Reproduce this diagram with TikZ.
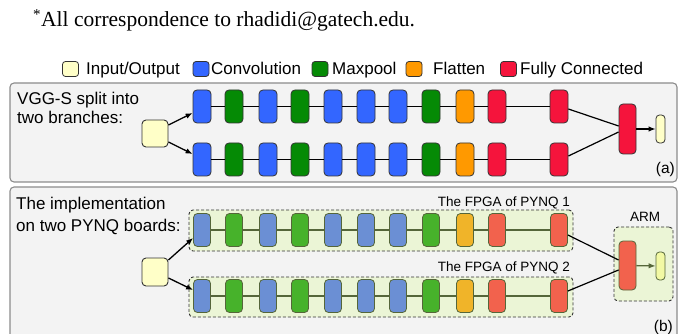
\documentclass[tikz,border=0pt]{standalone}
\usepackage{fontspec}
\setmainfont{Liberation Sans}
\newfontfamily\serifface{Liberation Serif}
\usetikzlibrary{arrows.meta,calc}
\definecolor{blueA}{HTML}{3366FF}
\definecolor{greenA}{HTML}{058A05}
\definecolor{orangeA}{HTML}{FF9900}
\definecolor{redA}{HTML}{F5143C}
\definecolor{yellowA}{HTML}{FFFFC8}
\definecolor{blueB}{HTML}{6B8FD4}
\definecolor{greenB}{HTML}{47B22B}
\definecolor{orangeB}{HTML}{F0B429}
\definecolor{redB}{HTML}{F2624D}
\definecolor{yellowB}{HTML}{F2F9A4}
\definecolor{oliveB}{HTML}{55663A}
\definecolor{boxB}{HTML}{EBF5D6}
\definecolor{panelfill}{HTML}{F3F3F3}
\definecolor{panelline}{HTML}{8C8C8C}
\definecolor{edgeA}{HTML}{333333}
\begin{document}
\begin{tikzpicture}[x=1pt,y=-1pt,
  txt/.style={inner sep=0pt,font=\fontsize{17}{19}\selectfont},
  smalltxt/.style={inner sep=0pt,font=\fontsize{13.5}{16}\selectfont},
  panel/.style={draw=panelline,fill=panelfill,line width=1.1pt,rounded corners=4pt},
  legbox/.style={draw=edgeA,line width=0.8pt,rounded corners=3pt,minimum width=16pt,minimum height=15pt,inner sep=0pt},
  layA/.style={draw=edgeA,line width=0.8pt,rounded corners=4pt,minimum width=18pt,minimum height=33pt,inner sep=0pt},
  layB/.style={draw=oliveB,line width=0.8pt,rounded corners=4pt,minimum width=17pt,minimum height=33pt,inner sep=0pt},
  chainA/.style={draw=black,line width=1.2pt},
  chainB/.style={draw=oliveB,line width=1.2pt},
  arr/.style={draw=black,line width=1.3pt,-{Latex[length=7pt,width=5.5pt]}},
  fpga/.style={draw=edgeA,fill=boxB,dash pattern=on 3pt off 2pt,line width=0.9pt,rounded corners=4pt,inner sep=0pt}
]
\clip (0,0) rectangle (678,334);
\fill[white] (0,0) rectangle (678,334);

% header
\node[anchor=base west,inner sep=0pt,font=\serifface\fontsize{21.5}{24}\selectfont] (hdr) at (33,27) {\textsuperscript{*}All correspondence to rhadidi@gatech.edu.};

% legend
\node[legbox,fill=yellowA] (l1) at (70.5,69) {};
\node[txt,anchor=base west] (lt1) at (86,75) {Input/Output};
\node[legbox,fill=blueA] (l2) at (201,69) {};
\node[txt,anchor=base west] (lt2) at (211,75) {Convolution};
\node[legbox,fill=greenA] (l3) at (320,69) {};
\node[txt,anchor=base west] (lt3) at (332,75) {Maxpool};
\node[legbox,fill=orangeA] (l4) at (414,69) {};
\node[txt,anchor=base west] (lt4) at (433,75) {Flatten};
\node[legbox,fill=redA] (l5) at (508.5,69) {};
\node[txt,anchor=base west] (lt5) at (520,75) {Fully Connected};

% panels
\path[panel] (10,83) rectangle (677,182);
\path[panel] (10,187) rectangle (677,345);

% ---------- panel (a)
\node[txt,anchor=base west] (ta1) at (17,104.5) {VGG-S split into};
\node[txt,anchor=base west] (ta2) at (17,124) {two branches:};
\node[txt,anchor=base east,font=\fontsize{15.5}{18}\selectfont] (lbla) at (675,174) {(a)};

\node[draw=edgeA,fill=yellowA,line width=0.9pt,rounded corners=4pt,minimum width=26pt,minimum height=27pt,inner sep=0pt] (ina) at (155,133.5) {};
\foreach \i/\x/\c in {1/202/blueA,2/234/greenA,3/268/blueA,4/300/greenA,5/333/blueA,6/366/blueA,7/398/blueA,8/431/greenA,9/465/orangeA,10/497/redA,11/559/redA}{
  \node[layA,fill=\c] (t\i) at (\x,106.5) {};
  \node[layA,fill=\c] (u\i) at (\x,159.5) {};
}
\foreach \i/\j in {1/2,2/3,3/4,4/5,5/6,6/7,7/8,8/9,9/10,10/11}{
  \draw[chainA] (t\i) -- (t\j);
  \draw[chainA] (u\i) -- (u\j);
}
\node[layA,fill=redA,minimum width=17pt,minimum height=50pt] (fa) at (627.5,129) {};
\node[layA,fill=yellowA,minimum width=9pt,minimum height=28pt,rounded corners=3.5pt] (oa) at (660.5,129) {};
\draw[arr] ($(ina.east)+(0,-8.5)$) -- ($(t1.west)+(0,6.5)$);
\draw[arr] ($(ina.east)+(0,8.5)$) -- ($(u1.west)+(0,-5.5)$);
\draw[chainA] ($(t11.east)+(0,2.5)$) -- ($(fa.west)+(0,-3)$);
\draw[chainA] ($(u11.east)+(0,-3.5)$) -- ($(fa.west)+(0,3)$);
\draw[arr] (fa) -- (oa);

% ---------- panel (b)
\node[txt,anchor=base west] (tb1) at (16,210) {The implementation};
\node[txt,anchor=base west] (tb2) at (16,232) {on two PYNQ boards:};
\node[txt,anchor=base east,font=\fontsize{15.5}{18}\selectfont] (lblb) at (673,331) {(b)};

\node[fpga,minimum width=384pt,minimum height=41pt] (fp1) at (381,230.5) {};
\node[fpga,minimum width=384pt,minimum height=40pt] (fp2) at (381,297) {};
\node[fpga,minimum width=59pt,minimum height=74pt] (arm) at (643.5,264) {};
\node[smalltxt,anchor=base east] (fl1) at (570,207) {The FPGA of PYNQ 1};
\node[smalltxt,anchor=base east] (fl2) at (570,271.5) {The FPGA of PYNQ 2};
\node[smalltxt,anchor=base] (arml) at (645,221.5) {ARM};

\node[draw=edgeA,fill=yellowA,line width=0.9pt,rounded corners=4pt,minimum width=26pt,minimum height=28pt,inner sep=0pt] (inb) at (155,272) {};
\foreach \i/\x/\c in {1/202/blueB,2/234/greenB,3/268/blueB,4/300/greenB,5/333/blueB,6/366/blueB,7/398/blueB,8/431/greenB,9/465/orangeB,10/497/redB,11/559/redB}{
  \node[layB,fill=\c] (v\i) at (\x,230) {};
  \node[layB,fill=\c] (w\i) at (\x,296) {};
}
\foreach \i/\j in {1/2,2/3,3/4,4/5,5/6,6/7,7/8,8/9,9/10,10/11}{
  \draw[chainB] (v\i) -- (v\j);
  \draw[chainB] (w\i) -- (w\j);
}
\node[layB,fill=redB,minimum height=49pt] (fb) at (627.5,265.5) {};
\node[layB,fill=yellowB,minimum width=9pt,minimum height=28pt,rounded corners=3.5pt] (ob) at (660.5,266) {};
\draw[arr] ($(inb.east)+(0,-12)$) -- ($(v1.west)+(0,8)$);
\draw[arr] ($(inb.east)+(0,6)$) -- ($(w1.west)+(0,-6)$);
\draw[chainA] ($(v11.east)+(0,5)$) -- ($(fb.west)+(0,-5.5)$);
\draw[chainA] ($(w11.east)+(0,-5)$) -- ($(fb.west)+(0,4.5)$);
\draw[draw=oliveB,line width=1.3pt,-{Latex[length=7pt,width=5.5pt]}] (fb) -- (ob);
\end{tikzpicture}
\end{document}
